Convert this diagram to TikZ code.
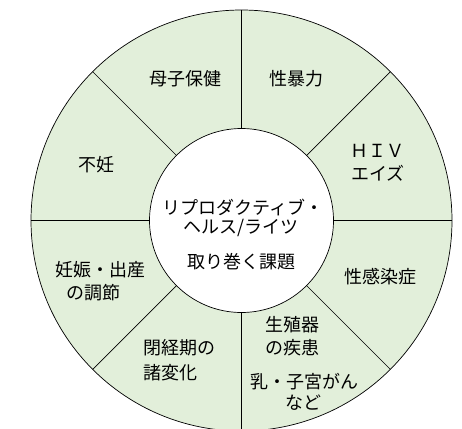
\documentclass[tikz,border=0pt]{standalone}
\usepackage{fontspec}
\newfontfamily\jp{Noto Sans CJK JP}
\definecolor{seg}{HTML}{E2EFDA}
\tikzset{
  lbl/.style={font=\jp\fontsize{18}{21}\selectfont, inner sep=0pt, text=black},
  ring/.style={circle, draw=black, line width=0.7pt, inner sep=0pt, outer sep=0pt},
  spoke/.style={draw=black, line width=0.7pt}
}
\begin{document}
\begin{tikzpicture}[x=1pt,y=-1pt]
\useasboundingbox (0,0) rectangle (462,428);
\clip (0,0) rectangle (462,428);
\coordinate (C) at (241.5,220.5);
\node[ring, fill=seg, minimum size=421pt] (outer) at (C) {};
\node[ring, fill=white, minimum size=184pt] (inner) at (C) {};
\foreach \a in {0,45,...,315}{
  \draw[spoke] (inner.\a) -- (outer.\a);
}
\node[lbl] (t1) at (185,79) {母子保健};
\node[lbl] (t2) at (296,79) {性暴力};
\node[lbl] (t3a) at (377,151) {ＨＩＶ};
\node[lbl] (t3b) at (378,173) {エイズ};
\node[lbl] (t4) at (96.7,165) {不妊};
\node[lbl] (c1) at (243,207) {リプロダクティブ・};
\node[lbl] (c2) at (241,228) {ヘルス/ライツ};
\node[lbl] (c3) at (241.7,262) {取り巻く課題};
\node[lbl] (t5) at (380,277) {性感染症};
\node[lbl] (t6a) at (100,270) {妊娠・出産};
\node[lbl] (t6b) at (93,293) {の調節};
\node[lbl, anchor=west] (t7a) at (143,348) {閉経期の};
\node[lbl, anchor=west] (t7b) at (143,373) {諸変化};
\node[lbl] (t8a) at (292.5,325) {生殖器};
\node[lbl] (t8b) at (292.5,348) {の疾患};
\node[lbl] (t8c) at (304,382) {乳・子宮がん};
\node[lbl] (t8d) at (303,403) {など};
\end{tikzpicture}
\end{document}
